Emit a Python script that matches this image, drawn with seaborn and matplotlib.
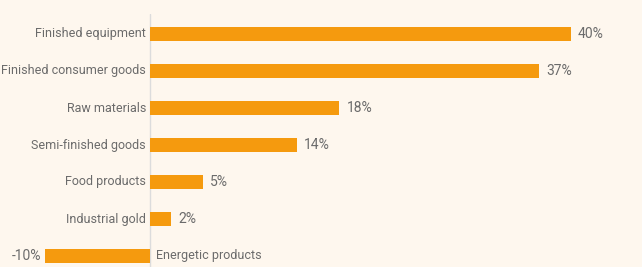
import matplotlib
matplotlib.use("Agg")
import matplotlib.pyplot as plt
import seaborn as sns
import pandas as pd

# data
categories = ["Finished equipment", "Finished consumer goods", "Raw materials",
              "Semi-finished goods", "Food products", "Industrial gold",
              "Energetic products"]
values = [40, 37, 18, 14, 5, 2, -10]
value_labels = ["40%", "37%", "18%", "14%", "5%", "2%", "-10%"]

BG = "#fef7ee"
ORANGE = "#f59a0e"
GREY = "#6b6b6b"

sns.set_style("white")
plt.rcParams["font.family"] = ["Roboto", "DejaVu Sans"]

df = pd.DataFrame({"category": categories, "value": values})

W, H = 642, 267
fig = plt.figure(figsize=(W / 100, H / 100), dpi=100, facecolor=BG)
# axes from x=-10 (px 45) to right edge, top at px 14
ax = fig.add_axes([45 / W, 0, (W - 45) / W, (H - 14) / H])
ax.set_facecolor(BG)

sns.barplot(data=df, x="value", y="category", orient="h", color=ORANGE,
            width=0.36, saturation=1, linewidth=0, ax=ax)

ax.set_xlim(-10, (W - 151) / 10.5)
ax.set_ylim(6 + (H - 256) / 37, -(34 - 14) / 37)
ax.axvline(0, color="#dcdcdc", lw=1, zorder=0)

for s in ax.spines.values():
    s.set_visible(False)
ax.set_xticks([])
ax.set_yticks([])
ax.set_xlabel("")
ax.set_ylabel("")

fs = 9
fs_val = 10
for i, (cat, v, lab) in enumerate(zip(categories, values, value_labels)):
    if v >= 0:
        ax.annotate(cat, (0, i), xytext=(-3, 0), textcoords="offset points",
                    ha="right", va="center", fontsize=fs, color=GREY)
        ax.annotate(lab, (v, i), xytext=(5, 0), textcoords="offset points",
                    ha="left", va="center", fontsize=fs_val, color=GREY)
    else:
        ax.annotate(cat, (0, i), xytext=(4, 0), textcoords="offset points",
                    ha="left", va="center", fontsize=fs, color=GREY)
        ax.annotate(lab, (v, i), xytext=(-3, 0), textcoords="offset points",
                    ha="right", va="center", fontsize=fs_val, color=GREY)

fig.savefig("out.png", dpi=100, facecolor=BG)
